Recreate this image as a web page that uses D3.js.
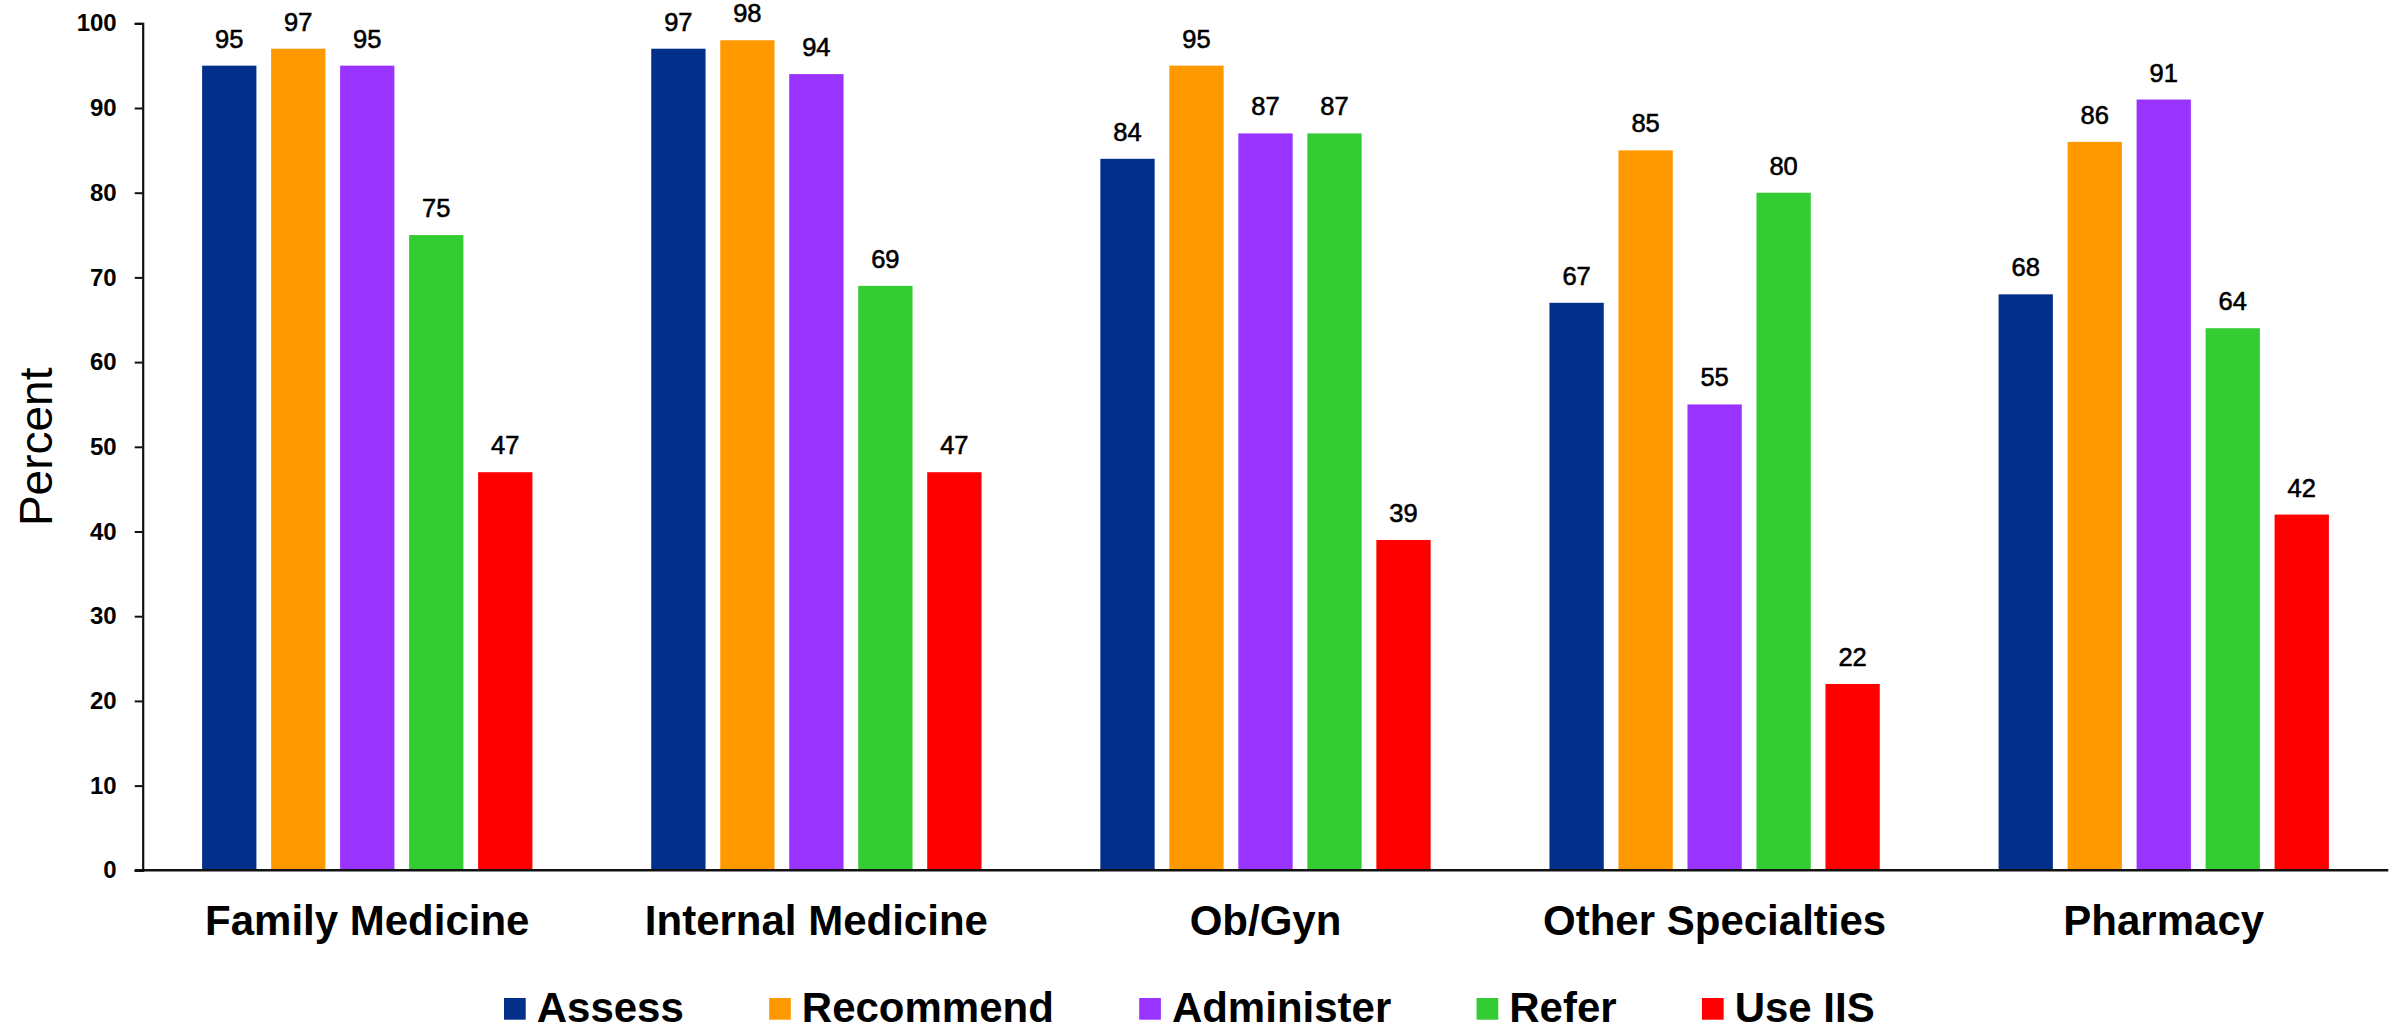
<!DOCTYPE html>
<html>
<head>
<meta charset="utf-8">
<script src="https://cdn.jsdelivr.net/npm/d3@7"></script>
<style>
  html, body { margin: 0; padding: 0; background: #fff; }
  svg { display: block; font-family: "Liberation Sans", Arial, Helvetica, sans-serif; }
</style>
</head>
<body>
<svg id="chart" width="2402" height="1031"></svg>
<script>
// Provider groups along the x axis
const categories = ["Family Medicine", "Internal Medicine", "Ob/Gyn", "Other Specialties", "Pharmacy"];
// Series (one bar per group each)
const seriesNames = ["Assess", "Recommend", "Administer", "Refer", "Use IIS"];
const seriesColors = ["#022F8A", "#FF9900", "#9933FF", "#33CC33", "#FF0000"];
// Percent values per series, ordered as categories
const assess     = [95, 97, 84, 67, 68];
const recommend  = [97, 98, 95, 85, 86];
const administer = [95, 94, 87, 55, 91];
const refer      = [75, 69, 87, 80, 64];
const useIIS     = [47, 47, 39, 22, 42];
const yTicks = [0, 10, 20, 30, 40, 50, 60, 70, 80, 90, 100];
const yLabel = "Percent";

const seriesValues = [assess, recommend, administer, refer, useIIS];

const svg = d3.select("#chart");
const plotLeft = 142.7, plotRight = 2388.3, plotTop = 23.3, plotBottom = 870.3;

const x0 = d3.scaleBand().domain(categories).range([plotLeft, plotRight]).paddingInner(0).paddingOuter(0);
const groupWidth = 330.3;
const groupOffset = (x0.bandwidth() - groupWidth) / 2;
const x1 = d3.scaleBand().domain(seriesNames).range([0, groupWidth]).paddingInner(0.213).paddingOuter(0);
const y = d3.scaleLinear().domain([0, 100]).range([plotBottom, plotTop]);

// Bars and value labels
const groups = svg.append("g").selectAll("g")
  .data(categories)
  .join("g")
  .attr("transform", d => `translate(${x0(d) + groupOffset},0)`);

groups.each(function(cat, ci) {
  const g = d3.select(this);
  const rows = seriesNames.map((s, si) => ({ s, v: seriesValues[si][ci], c: seriesColors[si] }));
  g.selectAll("rect").data(rows).join("rect")
    .attr("x", d => x1(d.s))
    .attr("y", d => y(d.v))
    .attr("width", x1.bandwidth())
    .attr("height", d => y(0) - y(d.v))
    .attr("fill", d => d.c);
  g.selectAll("text").data(rows).join("text")
    .attr("x", d => x1(d.s) + x1.bandwidth() / 2)
    .attr("y", d => y(d.v) - 18)
    .attr("text-anchor", "middle")
    .attr("font-size", 25.5)
    .attr("fill", "#000")
    .attr("stroke", "#000")
    .attr("stroke-width", 0.6)
    .text(d => d.v);
});

// Y axis
const yAxis = d3.axisLeft(y).tickValues(yTicks).tickSize(8).tickPadding(18).tickFormat(d3.format("d"));
const ya = svg.append("g").attr("transform", `translate(${plotLeft},0)`).call(yAxis);
ya.select(".domain").attr("stroke", "#111").attr("stroke-width", 2.2);
ya.selectAll(".tick line").attr("stroke", "#111").attr("stroke-width", 2);
ya.selectAll(".tick text")
  .attr("font-family", "Liberation Sans, Arial, sans-serif")
  .attr("font-size", 24).attr("font-weight", "bold").attr("fill", "#000");

// X axis baseline
svg.append("line")
  .attr("x1", plotLeft - 8).attr("x2", plotRight)
  .attr("y1", y(0)).attr("y2", y(0))
  .attr("stroke", "#111").attr("stroke-width", 2.4);

// Category labels
svg.append("g").selectAll("text").data(categories).join("text")
  .attr("x", d => x0(d) + x0.bandwidth() / 2)
  .attr("y", 935)
  .attr("text-anchor", "middle")
  .attr("font-size", 42)
  .attr("font-weight", "bold")
  .attr("fill", "#000")
  .text(d => d);

// Y axis title
svg.append("text")
  .attr("transform", `translate(52,${(plotTop + plotBottom) / 2}) rotate(-90)`)
  .attr("text-anchor", "middle")
  .attr("font-size", 46)
  .attr("fill", "#000")
  .text(yLabel);

// Legend
const legend = svg.append("g");
let lx = 504;
seriesNames.forEach((s, i) => {
  legend.append("rect")
    .attr("x", lx).attr("y", 998)
    .attr("width", 21.7).attr("height", 21.7)
    .attr("fill", seriesColors[i]);
  const t = legend.append("text")
    .attr("x", lx + 32.7).attr("y", 1021.5)
    .attr("font-size", 42).attr("font-weight", "bold").attr("fill", "#000")
    .text(s);
  lx += 32.7 + t.node().getComputedTextLength() + 85.3;
});
</script>
</body>
</html>
